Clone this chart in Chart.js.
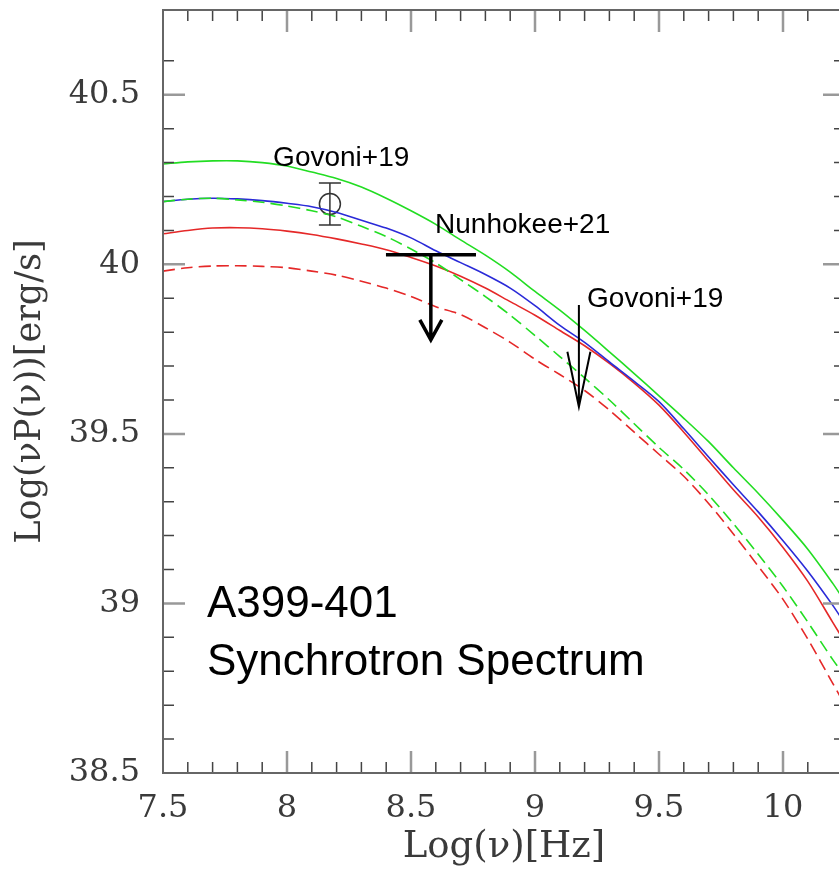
<!DOCTYPE html>
<html>
<head>
<meta charset="utf-8">
<script src="https://cdn.jsdelivr.net/npm/chart.js@4.4.1/dist/chart.umd.min.js"></script>
<style>
  html, body { margin: 0; padding: 0; background: #fff; overflow: hidden; }
  #sed { display: block; }
</style>
</head>
<body>
<!-- slightly wider than the window: the right-hand frame falls just off the page -->
<canvas id="sed" width="845" height="871" style="width:845px;height:871px"></canvas>
<script>
// frequency grid, log10(nu / Hz)
const logNu = [7.5, 7.6, 7.7, 7.8, 7.9, 8.0, 8.1, 8.2, 8.3, 8.4, 8.5, 8.6, 8.7, 8.8, 8.9,
               9.0, 9.1, 9.2, 9.3, 9.4, 9.5, 9.6, 9.7, 9.8, 9.9, 10.0, 10.1, 10.2, 10.25];

// model spectra, log10(nu P(nu)) [erg/s]
const greenSolid  = [40.296, 40.302, 40.305, 40.305, 40.300, 40.290, 40.272, 40.253, 40.228, 40.195,
                     40.158, 40.118, 40.072, 40.027, 39.977, 39.920, 39.865, 39.805, 39.742, 39.678,
                     39.612, 39.546, 39.477, 39.400, 39.325, 39.245, 39.160, 39.060, 39.005];
const blueSolid   = [40.185, 40.192, 40.195, 40.193, 40.188, 40.180, 40.170, 40.153, 40.130, 40.107,
                     40.078, 40.040, 40.005, 39.970, 39.930, 39.878, 39.820, 39.770, 39.712, 39.655,
                     39.595, 39.515, 39.432, 39.350, 39.270, 39.185, 39.095, 38.995, 38.940];
const redSolid    = [40.090, 40.100, 40.107, 40.108, 40.105, 40.098, 40.088, 40.075, 40.060, 40.043,
                     40.020, 39.995, 39.965, 39.930, 39.890, 39.850, 39.805, 39.760, 39.708, 39.650,
                     39.585, 39.505, 39.420, 39.335, 39.255, 39.165, 39.065, 38.945, 38.885];
const greenDashed = [40.185, 40.192, 40.195, 40.190, 40.183, 40.172, 40.158, 40.140, 40.112, 40.082,
                     40.045, 40.004, 39.955, 39.905, 39.850, 39.790, 39.728, 39.665, 39.600, 39.530,
                     39.460, 39.395, 39.320, 39.235, 39.145, 39.050, 38.945, 38.835, 38.785];
const redDashed   = [39.980, 39.990, 39.995, 39.996, 39.994, 39.990, 39.980, 39.968, 39.950, 39.930,
                     39.905, 39.875, 39.852, 39.813, 39.770, 39.720, 39.675, 39.628, 39.570, 39.505,
                     39.440, 39.375, 39.295, 39.205, 39.110, 39.012, 38.895, 38.765, 38.700];

// Govoni+19 detection with error bar
const detX = [8.173];
const detY = [40.178];
const detErr = [0.062];

// upper limits: Nunhokee+21 (band-averaged) and Govoni+19
const limX = [8.58, 9.177];
const limY = [40.028, 39.88];
const limTip = [39.777, 39.58];
const limBandLo = [8.399, null];
const limBandHi = [8.762, null];

// annotation text, anchored in data units
const noteText = ['Govoni+19', 'Nunhokee+21', 'Govoni+19', 'A399-401', 'Synchrotron Spectrum'];
const noteX = [7.944, 8.597, 9.21, 7.677, 7.677];
const noteY = [40.29, 40.093, 39.875, 38.96, 38.789];
const noteSize = [28, 28, 28, 44, 44];

const GREEN = '#22dd22', BLUE = '#2a2ad8', RED = '#e52828';

const pts = ys => logNu.map((x, i) => ({ x: x, y: ys[i] }));
const isStep = (v, s) => Math.abs(v / s - Math.round(v / s)) < 1e-6;

function curve(ys, color, dash) {
  return {
    data: pts(ys), borderColor: color, borderWidth: 1.6, borderDash: dash || [],
    pointRadius: 0, fill: false, tension: 0.3
  };
}

/* frame, inward ticks, error bar, upper limits and annotations */
const decor = {
  id: 'decor',
  afterDatasetsDraw(chart) {
    const { ctx, chartArea: a, scales: { x, y } } = chart;
    ctx.save();

    // inward tick marks on all four sides
    ctx.lineCap = 'butt';
    x.ticks.forEach(t => {
      const v = t.value;
      if (!isStep(v, 0.1) || v <= x.min || v >= x.max) return;
      const px = x.getPixelForValue(v), major = isStep(v, 0.5);
      const len = major ? 22 : 11;
      ctx.strokeStyle = major ? '#999' : '#444';
      ctx.lineWidth = major ? 2.5 : 1.5;
      ctx.beginPath();
      ctx.moveTo(px, a.bottom); ctx.lineTo(px, a.bottom - len);
      ctx.moveTo(px, a.top); ctx.lineTo(px, a.top + len);
      ctx.stroke();
    });
    y.ticks.forEach(t => {
      const v = t.value;
      if (!isStep(v, 0.1) || v <= y.min || v >= y.max) return;
      const py = y.getPixelForValue(v), major = isStep(v, 0.5);
      const len = major ? 22 : 11;
      ctx.strokeStyle = major ? '#999' : '#444';
      ctx.lineWidth = major ? 2.5 : 1.5;
      ctx.beginPath();
      ctx.moveTo(a.left, py); ctx.lineTo(a.left + len, py);
      ctx.moveTo(a.right, py); ctx.lineTo(a.right - len, py);
      ctx.stroke();
    });

    // plot frame
    ctx.strokeStyle = '#666';
    ctx.lineWidth = 2;
    ctx.strokeRect(a.left, a.top, a.right - a.left, a.bottom - a.top);

    // error bar on the detection
    ctx.strokeStyle = '#333';
    ctx.lineWidth = 1.5;
    detX.forEach((dx, i) => {
      const px = x.getPixelForValue(dx);
      const hi = y.getPixelForValue(detY[i] + detErr[i]);
      const lo = y.getPixelForValue(detY[i] - detErr[i]);
      ctx.beginPath();
      ctx.moveTo(px, hi); ctx.lineTo(px, lo);
      ctx.moveTo(px - 11, hi); ctx.lineTo(px + 11, hi);
      ctx.moveTo(px - 11, lo); ctx.lineTo(px + 11, lo);
      ctx.stroke();
    });

    // upper limits
    ctx.strokeStyle = '#000';
    limX.forEach((lx, i) => {
      const px = x.getPixelForValue(lx);
      const top = y.getPixelForValue(limY[i]);
      const tip = y.getPixelForValue(limTip[i]);
      const band = limBandLo[i] !== null;
      ctx.lineWidth = band ? 3.5 : 2;
      ctx.beginPath();
      if (band) {
        ctx.moveTo(x.getPixelForValue(limBandLo[i]), top);
        ctx.lineTo(x.getPixelForValue(limBandHi[i]), top);
      }
      ctx.moveTo(px, top); ctx.lineTo(px, tip);
      const headH = band ? 20 : 55, headW = band ? 11 : 11.5;
      ctx.moveTo(px - headW, tip - headH); ctx.lineTo(px, tip); ctx.lineTo(px + headW, tip - headH);
      ctx.stroke();
    });

    // annotations
    ctx.fillStyle = '#000';
    ctx.textAlign = 'left';
    ctx.textBaseline = 'alphabetic';
    noteText.forEach((s, i) => {
      ctx.font = noteSize[i] + 'px "Liberation Sans", Arial, sans-serif';
      ctx.fillText(s, x.getPixelForValue(noteX[i]), y.getPixelForValue(noteY[i]));
    });

    ctx.restore();
  }
};

const serif = 'DejaVu Serif';

function zeroPad(s) { s.paddingTop = s.paddingBottom = s.paddingLeft = s.paddingRight = 0; }

new Chart(document.getElementById('sed'), {
  type: 'line',
  data: {
    datasets: [
      curve(greenDashed, GREEN, [12, 6]),
      curve(blueSolid, BLUE),
      curve(redSolid, RED),
      curve(greenSolid, GREEN),
      curve(redDashed, RED, [12, 6]),
      {
        data: detX.map((v, i) => ({ x: v, y: detY[i] })),
        showLine: false, pointRadius: 10.5, pointBorderWidth: 1.5,
        pointBorderColor: '#333', pointBackgroundColor: 'rgba(0,0,0,0)'
      }
    ]
  },
  options: {
    responsive: false,
    animation: false,
    events: [],
    layout: { autoPadding: false, padding: { top: 10, left: 0, right: 0, bottom: 0 } },
    plugins: { legend: { display: false }, tooltip: { enabled: false } },
    scales: {
      x: {
        type: 'linear', min: 7.5, max: 10.25,
        grid: { display: false, drawTicks: false },
        border: { display: false },
        ticks: {
          stepSize: 0.1, autoSkip: false, maxRotation: 0, padding: 16,
          color: '#3a3a3a', font: { family: serif, size: 32 },
          callback: v => isStep(v, 0.5) ? String(Math.round(v * 10) / 10) : ''
        },
        title: {
          display: true, text: 'Log(ν)[Hz]', color: '#3a3a3a',
          font: { family: serif, size: 37 }, padding: { top: 0, bottom: 1 }
        },
        afterFit(s) { s.height = 98; zeroPad(s); }
      },
      y: {
        type: 'linear', min: 38.5, max: 40.75,
        grid: { display: false, drawTicks: false },
        border: { display: false },
        ticks: {
          stepSize: 0.1, autoSkip: false, padding: 23,
          color: '#3a3a3a', font: { family: serif, size: 32 },
          callback: v => isStep(v, 0.5) ? String(Math.round(v * 10) / 10) : ''
        },
        title: {
          display: true, text: 'Log(νP(ν))[erg/s]', color: '#3a3a3a',
          font: { family: serif, size: 35 }, padding: { top: 10, bottom: 0 }
        },
        afterFit(s) { s.width = 163; zeroPad(s); }
      }
    }
  },
  plugins: [decor]
});
</script>
</body>
</html>
